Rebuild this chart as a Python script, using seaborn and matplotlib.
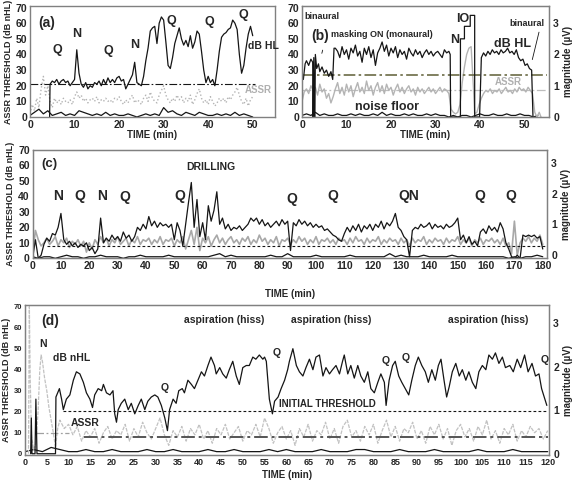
import numpy as np
import matplotlib
matplotlib.use('Agg')
import matplotlib.pyplot as plt
import seaborn as sns

sns.set_style('white')
plt.rcParams['font.family'] = ['Liberation Sans', 'DejaVu Sans']
plt.rcParams['font.weight'] = 'bold'
plt.rcParams['axes.labelweight'] = 'bold'

# ---------------- panel (a) ----------------
a_thr_start = (4.4, 0)
a_thr = [21, 23, 22, 24, 21, 23, 24, 22, 23, 20, 22, 24, 43, 28, 21, 19, 22, 18, 20, 19,
         22, 21, 23, 20, 24, 21, 25, 22, 24, 22, 25, 26, 23, 24, 18, 21, 24, 27, 35, 22,
         21, 20, 26, 36, 44, 55, 57, 58, 47, 60, 64, 62, 48, 33, 31, 38, 47, 52, 57, 50,
         46, 49, 45, 52, 44, 48, 55, 53, 42, 30, 22, 26, 22, 24, 20, 30, 42, 51, 53, 54,
         56, 57, 62, 60, 56, 40, 28, 33, 44, 53, 58, 52]
a_assr = [2, 8, 4, 12, 6, 18, 26, 14, 20, 10,
          6, 12, 9, 11, 8, 12, 10, 9, 11, 8,
          13, 16, 12, 14, 10, 12, 9, 11, 12, 10,
          13, 9, 11, 10, 12, 10, 11, 9, 12, 11,
          13, 10, 8, 11, 9, 12, 14, 9, 11, 10,
          8, 12, 14, 10, 16, 12, 10, 9, 14, 17,
          20, 14, 11, 9, 12, 10, 14, 11, 13, 9,
          12, 10, 14, 8, 11, 15, 18, 12, 9, 11,
          8, 13, 10, 7, 9, 12, 10, 12, 9, 13,
          11, 14, 16, 19, 14, 10, 8, 12, 7, 11, 13]
a_noise = [1, 3, 5, 2, 4, 1, 2, 3, 1, 2, 1, 4, 3, 2, 1, 2, 1, 3, 1, 2, 1, 1, 2, 1, 0, 1,
           2, 1, 2, 1, 6, 3, 4, 2, 1, 3, 2, 1, 3, 2, 1, 1, 2, 1, 2, 1, 3, 1, 2, 1, 0]
a_base = 21
a_labels = [('Q', 6.2, 43), ('N', 10.4, 53), ('Q', 17.5, 42), ('N', 23.4, 46),
            ('Q', 31.8, 61.5), ('Q', 40.2, 60.5), ('Q', 48, 65)]

# ---------------- panel (b) ----------------
b_thr_early_t = [0.3, 0.7, 1.0, 1.5, 2.0, 2.4, 2.5, 2.65, 2.8, 2.9, 3.0, 3.3, 3.7, 4.0,
                 4.5, 5.0, 5.5, 6.0, 6.5, 6.9, 7.2]
b_thr_early_v = [24, 34, 36, 33, 37, 35, 0, 38, 0, 0, 40, 31, 34, 29, 32, 28, 30, 26, 29, 24, 44]
b_thr_mid = [44, 42, 38, 45, 40, 43, 37, 44, 41, 46, 39, 42, 35, 44, 40, 45, 38, 43, 33, 41,
             44, 48, 42, 46, 39, 44, 41, 45, 38, 43, 40, 42, 37, 44, 41, 39, 43, 40, 42, 38,
             41, 43, 40, 42, 39, 41, 42, 40, 38, 43, 41, 42]
b_thr_io_t = [33.3, 33.4, 35.6, 35.6, 36.5, 36.5, 37.8, 37.8, 38.8, 38.8, 39.9]
b_thr_io_v = [40, 0, 0, 50, 50, 58, 58, 65, 65, 0, 0]
b_thr_late = [38, 41, 39, 42, 40, 43, 41, 42, 40, 43, 41, 42, 44, 41, 42, 40, 43, 38, 36, 37,
              33, 34, 31, 30]
b_thr_end = (51.9, 0)
b_assr_early = [10, 16, 18, 15, 20, 17, 19, 14, 21, 16, 18, 12, 15, 9, 13, 18, 22, 15, 19, 14,
                21, 16, 20, 13, 18, 22, 16, 19, 15, 23, 17, 20, 14, 19, 22, 16, 20, 15, 21, 17,
                19, 14, 18, 21, 16, 19, 15, 18, 20, 16, 18, 14, 19, 16, 18, 15, 17, 19, 16, 18,
                15, 17, 19, 16, 18, 17, 15]
b_assr_io_t = [33.5, 34, 34.5, 35, 35.5, 36, 36.5, 37, 37.5, 38, 38.5, 38.8, 39.3, 39.8]
b_assr_io_v = [5, 3, 2, 3, 8, 22, 32, 40, 44, 45, 20, 2, 3, 8]
b_assr_late = [12, 15, 17, 16, 18, 15, 17, 16, 18, 15, 17, 19, 16, 17, 15, 18, 16, 19, 17, 18,
               16, 19, 17, 15]
b_assr_end_t = [52.3, 52.8, 53.3, 53.7]
b_assr_end_v = [3, 0, 3, 0]
b_noise = [1, 2, 1, 3, 1, 2, 1, 1, 2, 1, 1, 2, 1, 2, 1, 1, 2, 1, 3, 1, 2, 1, 1, 2, 1, 2, 1,
           1, 2, 1, 2, 1, 1, 0, 1, 0, 1, 1, 0, 1, 2, 1, 1, 2, 1, 1, 2, 1, 1, 2, 1, 1, 0, 1]
b_base_dark = 27
b_base_light = 17

# ---------------- panel (c) ----------------
c_thr = [0, 12, 0, 2, 9, 13, 11, 16, 15, 20,
         29, 12, 9, 11, 8, 10, 7, 9, 8, 10,
         5, 7, 3, 6, 26, 10, 13, 11, 15, 12,
         14, 11, 17, 13, 15, 11, 14, 20, 18, 22,
         19, 27, 21, 24, 20, 23, 21, 22, 20, 22,
         12, 23, 18, 8, 22, 36, 49, 20, 38, 14,
         23, 12, 34, 24, 31, 43, 22, 26, 19, 22,
         18, 20, 19, 21, 18, 20, 22, 26, 24, 26,
         22, 25, 21, 23, 20, 22, 24, 21, 25, 22,
         24, 5, 23, 21, 25, 22, 24, 21, 23, 20,
         22, 20, 21, 18, 19, 17, 15, 14, 12, 11,
         16, 20, 17, 21, 18, 22, 17, 21, 19, 22,
         18, 22, 20, 24, 19, 23, 21, 24, 29, 20,
         18, 14, 12, 1, 18, 20, 19, 22, 20, 21,
         23, 19, 22, 20, 21, 19, 22, 20, 21, 23,
         26, 12, 15, 10, 14, 9, 11, 8, 17, 19,
         16, 21, 18, 20, 17, 23, 19, 10, 6, 1,
         0, 2, 0, 15, 14, 15, 14, 15, 13, 14, 6]
c_assr = [2, 18, 12, 8, 10, 13, 9, 11, 14, 8,
          12, 10, 13, 7, 11, 9, 12, 8, 11, 4,
          10, 6, 12, 9, 14, 10, 13, 8, 12, 10,
          14, 9, 11, 13, 8, 12, 10, 14, 9, 12,
          11, 13, 9, 12, 10, 14, 9, 12, 11, 13,
          8, 12, 10, 14, 6, 12, 18, 9, 20, 5,
          13, 10, 14, 8, 12, 15, 10, 13, 9, 12,
          14, 10, 12, 9, 13, 11, 14, 9, 12, 10,
          15, 11, 13, 9, 12, 10, 14, 8, 12, 11,
          13, 9, 12, 10, 14, 11, 13, 9, 12, 10,
          14, 9, 12, 11, 13, 10, 12, 9, 13, 11,
          12, 9, 13, 10, 14, 11, 12, 9, 13, 10,
          12, 11, 14, 9, 12, 10, 13, 11, 12, 9,
          13, 10, 12, 8, 13, 10, 12, 11, 14, 9,
          12, 10, 13, 11, 12, 9, 13, 10, 12, 11,
          14, 9, 12, 10, 13, 8, 12, 10, 13, 9,
          12, 11, 13, 10, 12, 9, 13, 8, 10, 3,
          24, 2, 10, 13, 11, 14, 10, 13, 11, 15, 9]
c_noise = [1, 0, 1, 1, 0, 1, 2, 1, 1, 0, 1, 1, 2, 1, 1, 1, 0, 1, 1, 2, 1, 1, 1, 1, 2, 1,
           1, 1, 1, 1, 1, 1, 2, 3, 1, 2, 1, 1, 1, 1, 1, 1, 2, 1, 1, 3, 1, 1, 1, 1, 2, 1,
           1, 1, 1, 1, 2, 1, 1, 1, 1, 1, 1, 3, 1, 2, 1, 1, 1, 2, 1, 1, 1, 1, 2, 1, 1, 1,
           1, 1, 1, 1, 1, 1, 0, 1, 0, 1, 1, 2, 1]
c_base = 8
c_labels = [('N', 9.1, 40), ('Q', 16.6, 40), ('N', 24.4, 40), ('Q', 32.6, 39.5),
            ('Q', 52, 40), ('Q', 91.5, 38.5), ('Q', 106, 40), ('QN', 132.6, 40),
            ('Q', 157.8, 40), ('Q', 168.7, 40)]

# ---------------- panel (d) ----------------
d_thr_t = [1.3, 1.45, 1.6, 2.3, 2.5, 2.75, 7.0,
           7.1, 7.9, 8.4, 8.8, 9.5, 10.3, 11.1, 11.8, 12.6, 13.4,
           14.1, 14.9, 15.5, 16.0, 16.8, 17.6, 18.0, 18.7, 19.5, 20.2,
           20.6, 21.0, 21.4, 22.1, 22.9, 23.7, 24.4, 25.2, 26.0, 26.7,
           27.5, 28.2, 29.0, 29.8, 30.5, 31.3, 32.1, 32.7, 33.2, 34.0,
           34.7, 35.3, 36.1, 36.6, 37.4, 38.2, 38.9, 39.7, 40.5, 41.2,
           42.0, 42.7, 43.5, 43.9, 44.7, 45.4, 46.2, 46.9, 47.7, 48.5,
           49.2, 50.0, 50.8, 51.5, 52.3, 53.0, 53.8, 54.6, 55.0, 55.4,
           55.8, 56.1, 56.8, 57.3, 58.1, 58.8, 59.6, 60.3, 60.7, 61.5,
           62.3, 63.0, 63.8, 64.5, 65.3, 66.1, 66.8, 67.6, 68.4, 69.1,
           69.9, 70.6, 71.4, 72.2, 72.9, 73.3, 74.1, 74.8, 75.6, 76.4,
           77.1, 77.9, 78.7, 79.4, 80.2, 81.0, 81.7, 82.5, 82.9, 83.6,
           84.4, 85.0, 85.8, 86.5, 87.3, 88.1, 88.8, 89.6, 90.3, 91.1,
           91.9, 92.6, 93.4, 94.2, 94.9, 95.5, 96.2, 96.8, 97.4, 98.1,
           98.9, 99.7, 100.4, 101.2, 101.9, 102.7, 103.5, 104.2, 105.0, 105.8,
           106.5, 107.3, 108.0, 108.8, 109.6, 110.3, 111.3, 112.1, 113.0, 113.8,
           114.7, 115.5, 116.4, 117.2, 118.0, 118.6, 119.2, 119.8]
d_thr_v = [0, 17, 0, 0, 26, 0, 0,
           27, 31, 26, 21, 26, 28, 35, 39, 38, 34,
           29, 26, 22, 28, 31, 30, 33, 29, 28, 30,
           19, 15, 21, 24, 26, 21, 24, 19, 23, 26,
           21, 25, 27, 28, 27, 23, 17, 11, 21, 26,
           24, 30, 31, 29, 35, 33, 31, 35, 39, 37,
           42, 46, 42, 38, 41, 38, 36, 40, 44, 37,
           33, 41, 42, 42, 46, 45, 47, 45, 46, 44,
           34, 26, 19, 25, 27, 31, 35, 40, 44, 50,
           42, 39, 37, 41, 45, 40, 46, 47, 37, 41,
           38, 40, 42, 38, 44, 47, 38, 42, 36, 42,
           37, 34, 39, 31, 29, 34, 38, 34, 23, 35,
           42, 44, 37, 34, 31, 28, 35, 42, 46, 42,
           39, 34, 40, 35, 42, 45, 35, 27, 32, 39,
           43, 37, 40, 35, 39, 34, 31, 39, 42, 40,
           47, 45, 48, 43, 46, 41, 42, 39, 45, 41,
           47, 39, 43, 37, 38, 31, 27, 23]
d_assr_early_t = [0.8, 1.0, 1.2, 1.5, 2.0, 2.5, 3.0, 3.4, 3.7, 4.0, 4.5, 5.0, 5.5, 6.0, 6.5, 7.0, 7.5]
d_assr_early_v = [0, 70, 35, 8, 2, 5, 20, 40, 47, 44, 36, 30, 22, 16, 10, 3, 12]
d_assr = [16, 12, 14, 9, 13, 6, 11, 8, 12, 5,
          10, 13, 7, 11, 9, 14, 6, 12, 8, 15,
          10, 7, 12, 17, 9, 4, 11, 8, 13, 6,
          12, 9, 14, 7, 11, 5, 12, 9, 14, 7,
          10, 13, 6, 11, 9, 14, 8, 17, 12, 5,
          10, 13, 7, 11, 4, 12, 8, 14, 6, 11,
          9, 15, 7, 12, 5, 13, 16, 8, 11, 6,
          13, 9, 14, 5, 11, 16, 8, 13, 6, 12,
          10, 15, 7, 11, 5, 13, 9, 14, 7, 12,
          4, 11, 14, 8, 12, 6, 13, 9, 16, 7,
          11, 5, 12, 9, 14, 6, 11, 8, 13, 10,
          12, 7, 11]
d_noise = [1, 2, 1, 3, 2, 1, 1, 2, 1, 1, 2, 1, 1, 1, 2, 1, 1, 2, 1, 1, 1, 2, 1, 1, 2, 1,
           1, 1, 2, 1, 2, 1, 1, 1, 2, 1, 1, 1, 2, 2, 1, 1, 1, 2, 1, 1, 1, 2, 1, 1, 1, 1,
           2, 1, 1, 1, 2, 1, 1, 1, 1]
d_initial = 20.5
d_base = 7.9
d_base_early = 10
d_labels = [('Q', 32, 31.3), ('Q', 57.7, 48), ('Q', 82.7, 44), ('Q', 87.4, 45.6), ('Q', 119.3, 44.7)]
d_hiss = [45.8, 70.3, 106.4]

BLACK = '#151515'
GRAY = '#b4b4b4'
FRAME = '#808080'


def trace(ax, t, v, color=BLACK, lw=0.9, ls='-'):
    sns.lineplot(x=np.asarray(t, float), y=np.asarray(v, float), ax=ax, color=color,
                 linewidth=lw, linestyle=ls, estimator=None, sort=False)


def frame(ax, xlim, ylim, xticks, ylab=True, xfs=7.5, yfs=7.5, xpad=0):
    ax.set_xlim(*xlim)
    ax.set_ylim(*ylim)
    ax.set_xticks(xticks)
    ax.set_yticks(range(0, 71, 10))
    ax.tick_params(axis='x', labelsize=xfs, length=0, pad=2)
    ax.tick_params(axis='y', labelsize=yfs, length=0, pad=2)
    for s in ax.spines.values():
        s.set_color(FRAME)
        s.set_linewidth(1.0)
    ax.set_xlabel('TIME (min)', fontsize=7, labelpad=xpad)
    if ylab:
        ax.set_ylabel('ASSR THRESHOLD (dB nHL)', fontsize=6.5, labelpad=2)
    else:
        ax.set_ylabel('')


def right_axis(ax, ylim):
    axr = ax.twinx()
    axr.set_ylim(*ylim)
    axr.set_yticks([0, 1, 2, 3])
    axr.tick_params(axis='y', labelsize=7.5, length=0, pad=3)
    axr.set_ylabel('magnitude (\u00b5V)', fontsize=7, labelpad=3)
    for s in axr.spines.values():
        s.set_color(FRAME)
    return axr


W, H = 575, 483
fig = plt.figure(figsize=(W / 100, H / 100), dpi=100)


def box(l, r, t, b):
    return fig.add_axes([l / W, 1 - b / H, (r - l) / W, (b - t) / H])


# ---- (a)
ax = box(30, 275, 6, 117)
trace(ax, np.linspace(0, 50, len(a_noise)), a_noise, lw=0.9)
trace(ax, np.linspace(0, 50, len(a_assr)), a_assr, color=GRAY, lw=1.0, ls=':')
ax.hlines(a_base, 0, 50.4, color=BLACK, lw=0.8, linestyles=[(0, (7, 2, 1.5, 2))])
trace(ax, [a_thr_start[0]] + list(np.linspace(4.5, 50, len(a_thr))),
      [a_thr_start[1]] + a_thr, lw=0.9)
frame(ax, (0, 55), (0, 71), range(0, 51, 10))
ax.text(1.8, 60, '(a)', fontsize=10, ha='left', va='center')
for s, x, y in a_labels:
    ax.text(x, y, s, fontsize=9, ha='center', va='center')
ax.text(52.5, 45.5, 'dB HL', fontsize=7.5, ha='center', va='center')
ax.text(51.3, 17, 'ASSR', fontsize=7, ha='center', va='center', color='#b0b0b0')

# ---- (b)
ax = box(302, 549, 6, 117)
trace(ax, np.linspace(0, 53, len(b_noise)), b_noise, lw=0.9)
ax.hlines(b_base_light, 0, 55, color='#bdbdbd', lw=0.9, linestyles=[(0, (7, 2, 1.5, 2))])
b_assr_t = (list(np.linspace(0, 33, len(b_assr_early))) + b_assr_io_t
            + list(np.linspace(40.3, 51.8, len(b_assr_late))) + b_assr_end_t)
b_assr_v = b_assr_early + b_assr_io_v + b_assr_late + b_assr_end_v
trace(ax, b_assr_t, b_assr_v, color=GRAY, lw=1.0)
ax.hlines(b_base_dark, 0, 55, color='#6b6b45', lw=1.2, linestyles=[(0, (7, 2, 1.5, 2))])
b_thr_t = (b_thr_early_t + list(np.linspace(7.5, 33, len(b_thr_mid))) + b_thr_io_t
           + list(np.linspace(40.3, 51.6, len(b_thr_late))) + [b_thr_end[0]])
b_thr_v = b_thr_early_v + b_thr_mid + b_thr_io_v + b_thr_late + [b_thr_end[1]]
trace(ax, b_thr_t, b_thr_v, lw=0.9)
frame(ax, (0, 55.5), (0, 71), range(0, 51, 10), ylab=False)
right_axis(ax, (0, 3.55))
ax.text(0.6, 64, 'binaural', fontsize=6.5, ha='left', va='center')
ax.text(4, 52, '(b)', fontsize=10, ha='center', va='center')
ax.annotate('', xy=(4.3, 39), xytext=(4.8, 44.5),
            arrowprops=dict(arrowstyle='-', color=BLACK, lw=0.6))
ax.text(18, 53, 'masking ON (monaural)', fontsize=6.5, ha='center', va='center')
ax.text(34.4, 49, 'N', fontsize=9, ha='center', va='center')
ax.text(36.1, 63, 'IO', fontsize=9, ha='center', va='center')
ax.text(47.4, 47, 'dB HL', fontsize=9, ha='center', va='center')
ax.text(50.5, 60, 'binaural', fontsize=6.5, ha='center', va='center')
ax.annotate('', xy=(51.6, 35), xytext=(53.4, 56),
            arrowprops=dict(arrowstyle='-', color=BLACK, lw=0.6))
ax.text(46.4, 22.5, 'ASSR', fontsize=7, ha='center', va='center', color='#b0b0b0')
ax.text(19, 6.5, 'noise floor', fontsize=9, ha='center', va='center')

# ---- (c)
ax = box(32.6, 547, 150, 258.3)
trace(ax, np.linspace(0, 180, len(c_noise)), c_noise, lw=0.9)
trace(ax, np.linspace(0, 180, len(c_assr)), c_assr, color='#a8a8a8', lw=1.2)
ax.hlines(c_base, 5, 181, color=BLACK, lw=0.8, linestyles=[(0, (2.5, 2))])
trace(ax, np.linspace(0, 180, len(c_thr)), c_thr, lw=0.9)
frame(ax, (0, 181.5), (0, 70), range(0, 181, 10), xpad=13)
right_axis(ax, (-0.11, 3.44))
ax.text(3, 61, '(c)', fontsize=9.5, ha='left', va='center')
ax.text(63, 59, 'DRILLING', fontsize=7.5, ha='center', va='center')
for s, x, y in c_labels:
    ax.text(x, y, s, fontsize=10, ha='center', va='center')

# ---- (d)
ax = box(25, 549, 305, 455)
trace(ax, np.linspace(0, 120, len(d_noise)), d_noise, lw=0.9)
trace(ax, d_assr_early_t + list(np.linspace(8, 120, len(d_assr))),
      d_assr_early_v + d_assr, color='#c2c2c2', lw=0.9, ls=(0, (3, 1)))
ax.hlines(d_base_early, 2.5, 10, color='#a0a0a0', lw=0.9, linestyles=[(0, (6, 2, 1.5, 2))])
ax.hlines(d_base, 13.5, 120, color='#555555', lw=1.4, linestyles=[(0, (7, 2, 1.5, 2))])
ax.hlines(d_initial, 8.8, 120, color=BLACK, lw=0.8, linestyles=[(0, (2.5, 2))])
trace(ax, d_thr_t, d_thr_v, lw=0.9)
frame(ax, (0, 120.3), (-0.6, 70.8), range(0, 121, 5), xfs=6.5, yfs=5.5, xpad=2)
right_axis(ax, (-0.03, 3.42))
ax.text(5.7, 63, '(d)', fontsize=10, ha='center', va='center')
for x in d_hiss:
    ax.text(x, 63.8, 'aspiration (hiss)', fontsize=7.5, ha='center', va='center')
ax.text(4.2, 52, 'N', fontsize=7.5, ha='center', va='center')
ax.text(10.8, 45.6, 'dB nHL', fontsize=7.5, ha='center', va='center')
ax.text(13.7, 14.6, 'ASSR', fontsize=7.5, ha='center', va='center')
ax.text(69.5, 23.7, 'INITIAL THRESHOLD', fontsize=7, ha='center', va='center')
for s, x, y in d_labels:
    ax.text(x, y, s, fontsize=7.5, ha='center', va='center')

fig.savefig('out.png', dpi=100)
